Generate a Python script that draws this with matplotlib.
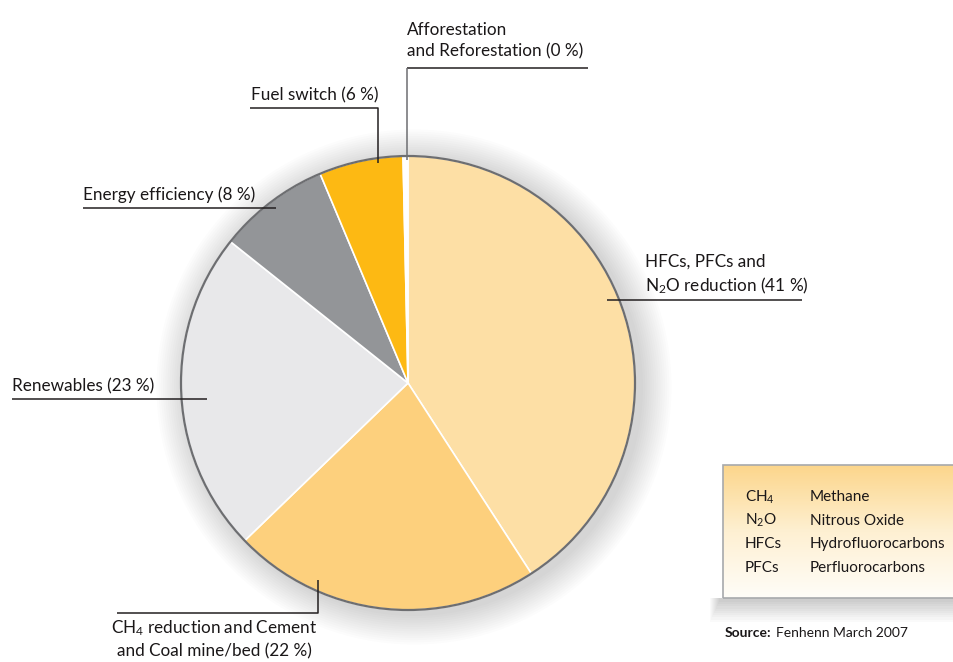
import numpy as np
import matplotlib.pyplot as plt
from matplotlib.patches import Circle, Rectangle
from matplotlib.colors import LinearSegmentedColormap

plt.rcParams['font.family'] = ['Lato', 'DejaVu Sans']
plt.rcParams['mathtext.default'] = 'regular'

# slice data, clockwise from 12 o'clock
labels = ['HFCs, PFCs and\nN$_2$O reduction (41 %)',
          'CH$_4$ reduction and Cement\nand Coal mine/bed (22 %)',
          'Renewables (23 %)',
          'Energy efficiency (8 %)',
          'Fuel switch (6 %)',
          'Afforestation\nand Reforestation (0 %)']
shares = [41, 22, 23, 8, 6, 0]
colors = ['#FDDFA5', '#FDD07D', '#E8E8EA', '#939598', '#FDB913', '#FFFFFF']

abbrev = ['CH$_4$', 'N$_2$O', 'HFCs', 'PFCs']
meaning = ['Methane', 'Nitrous Oxide', 'Hydrofluorocarbons', 'Perfluorocarbons']

H = 662
fig = plt.figure(figsize=(9.54, 6.62), dpi=100)
ax = fig.add_axes([0, 0, 1, 1])

def Y(y):
    # picture rows measured from the top
    return H - y

cx, cy, r = 408, Y(383), 227

# soft shadow round the pie
for k in range(14):
    ax.add_patch(Circle((cx + 6, cy - 4), r + 2 + k * 2.2, color='#000000',
                        alpha=0.011, lw=0, zorder=1))

vals = [max(v, 0.35) for v in shares]  # keep the 0 % slice as a thin sliver
wedges, _ = ax.pie(vals, colors=colors, startangle=90, counterclock=False,
                   center=(cx, cy), radius=r, frame=False,
                   wedgeprops=dict(edgecolor='white', linewidth=1.2, zorder=2))
ax.add_patch(Circle((cx, cy), r, fill=False, ec='#6D6E71', lw=1.6, zorder=3))

tc = '#1A1718'
lc = '#231F20'
fs = 12.3

def leader(pts, color=lc):
    xs, ys = zip(*pts)
    ax.plot(xs, [Y(v) for v in ys], color=color, lw=1.1, zorder=4,
            solid_capstyle='butt')

# HFCs
ax.text(645, Y(296), labels[0], fontsize=fs, color=tc, ha='left', va='bottom', linespacing=1.4)
leader([(607, 300), (802, 300)])
# CH4
ax.text(214, Y(618), labels[1], fontsize=fs, color=tc, ha='center', va='top', linespacing=1.4)
leader([(117, 613), (318, 613), (318, 580)])
# Renewables
ax.text(12, Y(394), labels[2], fontsize=fs, color=tc, ha='left', va='bottom')
leader([(12, 399), (207, 399)])
# Energy efficiency
ax.text(83, Y(203), labels[3], fontsize=fs, color=tc, ha='left', va='bottom')
leader([(83, 208), (276, 208)])
# Fuel switch
ax.text(251, Y(103), labels[4], fontsize=fs, color=tc, ha='left', va='bottom')
leader([(250, 108), (378, 108), (378, 163)])
# Afforestation
ax.text(407, Y(59), labels[5], fontsize=fs, color=tc, ha='left', va='bottom', linespacing=1.4)
leader([(407, 68), (588, 68)])
leader([(407, 68), (407, 160)], color='#6D6E71')

# glossary box with gradient and shadow
bx, by, bw, bh = 723, 465, 240, 133
for k in range(10):
    ax.add_patch(Rectangle((bx - 4 - k, Y(by + bh + 4 + k * 2.2)), bw + 8 + 2 * k, 4 + k * 2.2,
                           color='#000000', alpha=0.02, lw=0, zorder=1))
grad = np.linspace(0, 1, 100).reshape(-1, 1)
cmap = LinearSegmentedColormap.from_list('g', ['#FCD68C', '#FEF0D2', '#FFFDF8'])
ax.imshow(grad, cmap=cmap, extent=(bx, bx + bw, Y(by + bh), Y(by)), aspect='auto',
          origin='upper', zorder=2)
ax.add_patch(Rectangle((bx, Y(by + bh)), bw, bh, fill=False, ec='#A7A9AC', lw=1.2, zorder=3))

for i, (a, m) in enumerate(zip(abbrev, meaning)):
    y = 497 + i * 23.7
    ax.text(745, Y(y), a, fontsize=11, color=tc, ha='left', va='center')
    ax.text(810, Y(y), m, fontsize=11, color=tc, ha='left', va='center')

src = ax.text(725, Y(633), 'Source:', fontsize=10, color=tc, ha='left', va='center',
              fontweight='bold')
ax.annotate('Fenhenn March 2007', xy=(1, 0.5), xycoords=src, xytext=(3, 0),
            textcoords='offset points', fontsize=10, color=tc, ha='left', va='center')

ax.set_xlim(0, 954)
ax.set_ylim(0, H)
ax.set_aspect('equal')
ax.axis('off')

fig.savefig('out.png', dpi=100)
